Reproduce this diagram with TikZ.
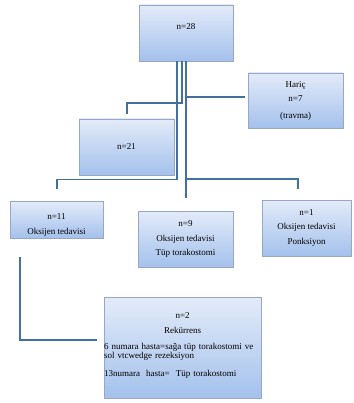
\documentclass[tikz,border=0pt]{standalone}
\usepackage{fontspec}
\setmainfont{Liberation Serif}
\usepackage{xcolor}
\usepackage{tikz}
\usetikzlibrary{shadows}
\definecolor{linkblue}{HTML}{41719C}
\definecolor{boxtop}{HTML}{E3EBF9}
\definecolor{boxbottom}{HTML}{A4C1EC}
\definecolor{boxedge}{HTML}{98A8C2}

\begin{document}
\begin{tikzpicture}[
  x=1pt, y=-1pt,
  every node/.style={font=\fontsize{9}{10}\selectfont},
  box/.style={rectangle, draw=boxedge, line width=0.6pt, top color=boxtop, bottom color=boxbottom,
    drop shadow={shadow xshift=1.2pt, shadow yshift=-1.2pt, opacity=0.35}, align=center, inner sep=0pt},
  link/.style={draw=linkblue, line width=1.6pt}
]
\useasboundingbox (0,0) rectangle (353,403);

% === boxes ===
\node[box, minimum width=94pt, minimum height=56pt] (n28) at (186,33) {n=28\\[2pt]\mbox{}};
\node[box, minimum width=95pt, minimum height=55pt] (haric) at (295.5,100.5) {\mbox{}\\[-4pt]Hariç\\[4pt]n=7\\[7pt](travma)};
\node[box, minimum width=95pt, minimum height=56pt] (n21) at (126.5,147) {n=21};
\node[box, minimum width=93pt, minimum height=37pt] (n11) at (56.5,219.5) {\mbox{}\\[6pt]n=11\\[5pt]Oksijen tedavisi};
\node[box, minimum width=95pt, minimum height=56pt] (n9) at (185.5,239) {n=9\\[5pt]Oksijen tedavisi\\[4pt]Tüp torakostomi};
\node[box, minimum width=89pt, minimum height=56pt] (n1) at (306.5,228) {n=1\\[4pt]Oksijen tedavisi\\[5pt]Ponksiyon};
\node[box, minimum width=157pt, minimum height=101pt] (n2) at (182.5,347.5) {};
\node[anchor=north west, text width=157pt, inner sep=0pt] (n2text) at (104,312.5)
  {\centering n=2\\[5pt]Rekürrens\par\raggedright\vspace{6pt}%
   6 numara hasta=sağa tüp torakostomi ve\\[-1.5pt]sol vtcwedge rezeksiyon\\[8pt]13numara\ \ hasta=\ \ Tüp torakostomi};

% === free ends ===
\coordinate (t11) at (57,189);
\coordinate (t21) at (127,114);
\coordinate (t9) at (186,198);
\coordinate (th) at (245,97);
\coordinate (t1) at (298,189);
\coordinate (a2) at (20,257);
\coordinate (t2) at (97,340);

% === connectors ===
\draw[link] ([xshift=-9pt]n28.south) -- ++(0,118) -| (t11);
\draw[link] ([xshift=-4pt]n28.south) -- ++(0,42) -| (t21);
\draw[link] (n28.south) -- (t9);
\draw[link] (th -| t9) -- (th);
\draw[link] (t9) ++(0,-19) -| (t1);
\draw[link] (a2) |- (t2);

\end{tikzpicture}
\end{document}
